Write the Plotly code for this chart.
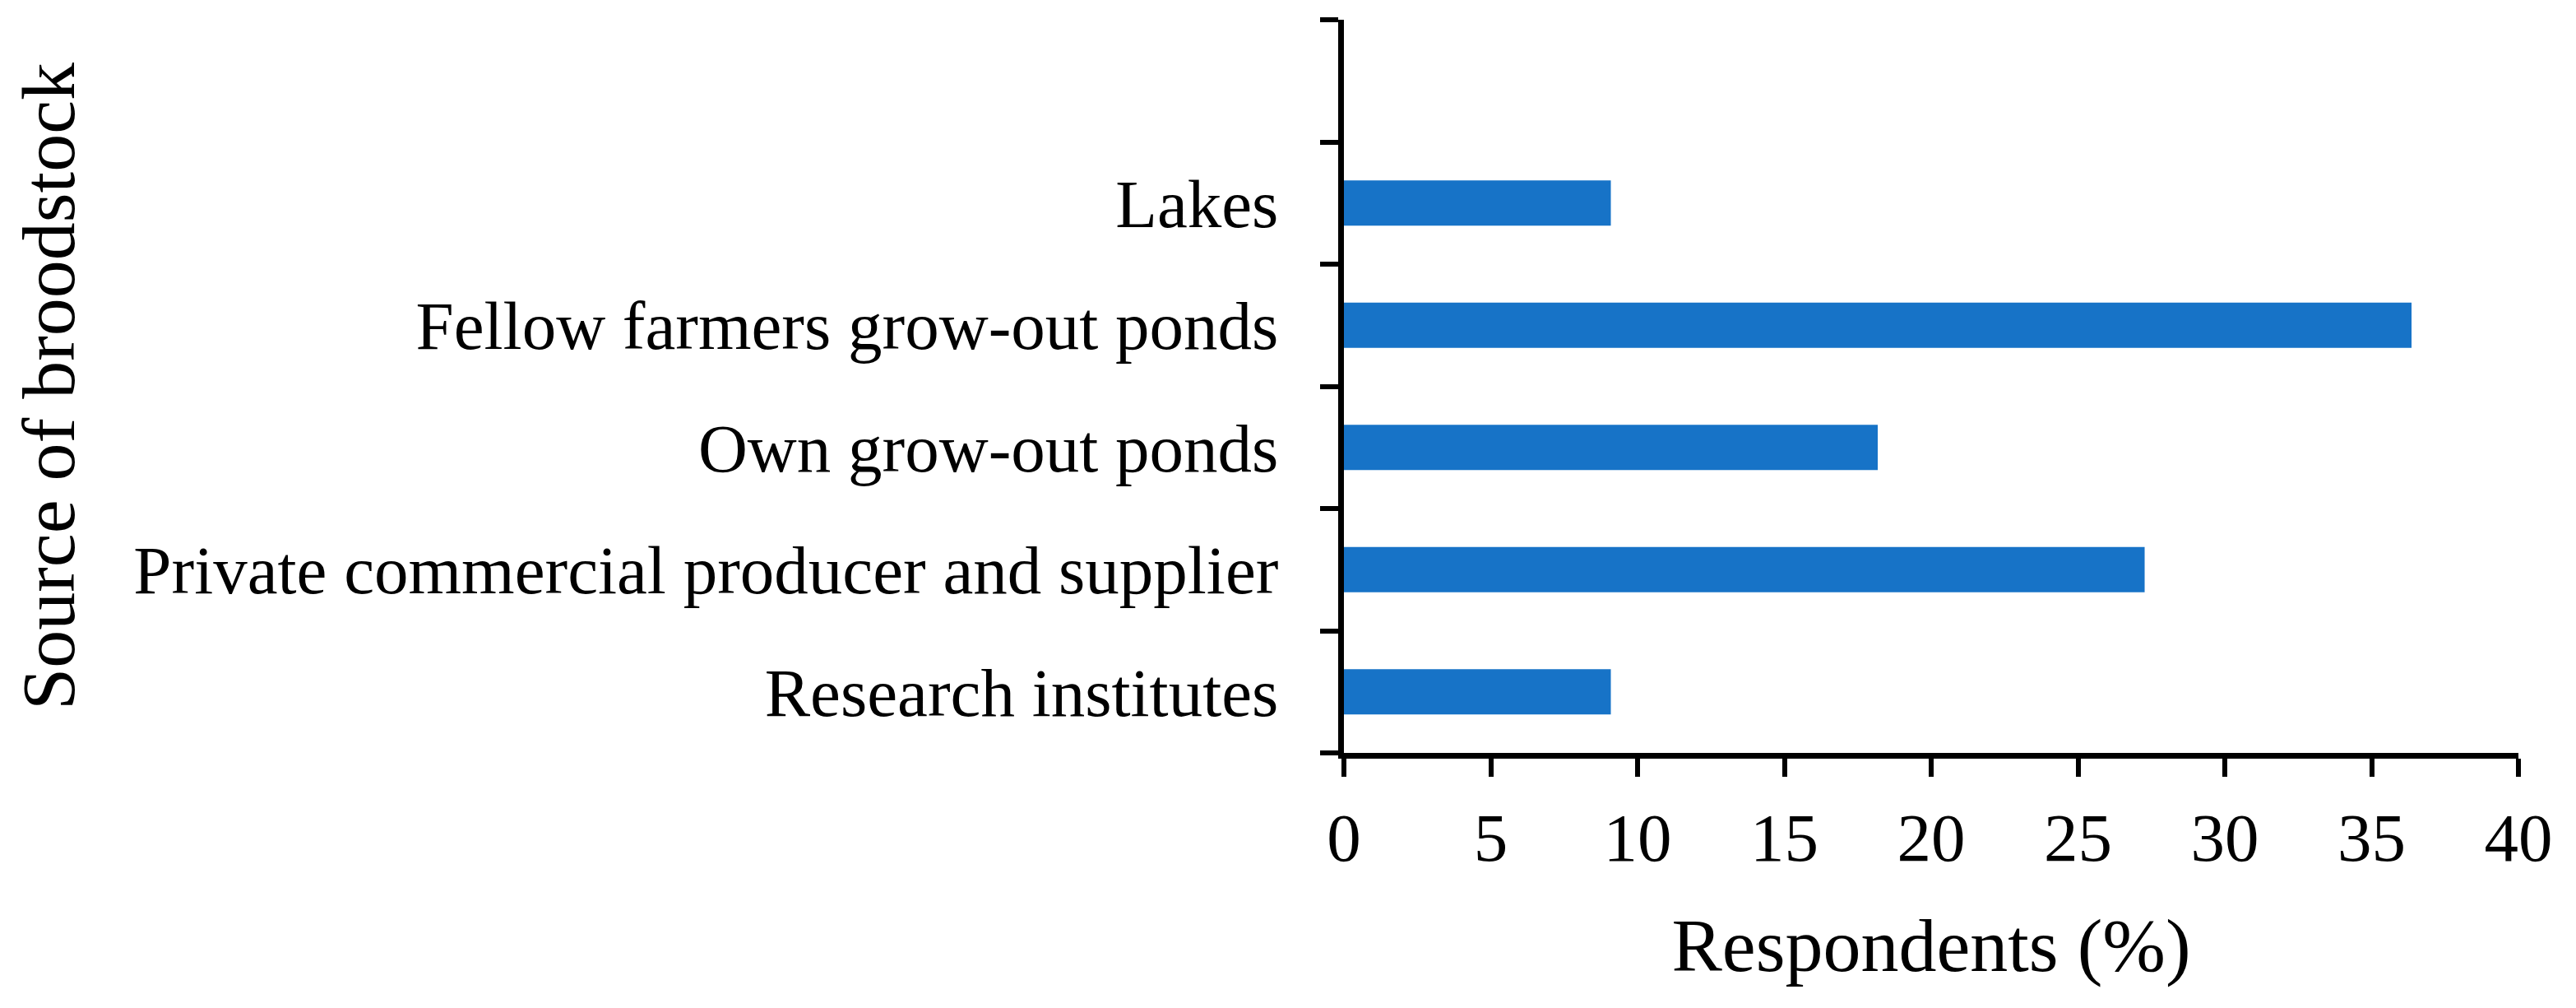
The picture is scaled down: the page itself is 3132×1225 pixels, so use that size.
import plotly.graph_objects as go

# bottom to top, as drawn on the y axis
sources = [
    "Research institutes",
    "Private commercial producer and supplier",
    "Own grow-out ponds",
    "Fellow farmers grow-out ponds",
    "Lakes",
]
respondents_pct = [9.09, 27.27, 18.18, 36.36, 9.09]
# an unused slot sits above "Lakes" in the original figure
axis_categories = sources + [" "]
x_ticks = [0, 5, 10, 15, 20, 25, 30, 35, 40]

FONT = "Palatino Linotype, Book Antiqua, Palatino, Liberation Serif, serif"

fig = go.Figure(
    go.Bar(
        x=respondents_pct,
        y=sources,
        orientation="h",
        marker=dict(color="#1773c7", line=dict(width=0)),
        width=0.37,
    )
)

fig.update_layout(
    width=3132,
    height=1225,
    margin=dict(l=1626, r=78, t=16, b=318),
    paper_bgcolor="white",
    plot_bgcolor="white",
    showlegend=False,
    font=dict(family=FONT, color="black", size=83),
)

fig.update_xaxes(
    range=[0, 40],
    tickvals=x_ticks,
    ticks="outside",
    ticklen=22,
    tickwidth=6,
    tickcolor="black",
    showline=True,
    linewidth=7,
    linecolor="black",
    showgrid=False,
    zeroline=False,
    automargin=False,
    tickfont=dict(size=83),
    ticklabelstandoff=2,
    title=dict(text="Respondents (%)", font=dict(size=92), standoff=56),
)

fig.update_yaxes(
    type="category",
    categoryorder="array",
    categoryarray=axis_categories,
    range=[-0.5, 5.5],
    tickson="boundaries",
    ticks="outside",
    ticklen=22,
    tickwidth=6,
    tickcolor="black",
    showline=True,
    linewidth=7,
    linecolor="black",
    showgrid=False,
    zeroline=False,
    automargin=False,
    tickfont=dict(size=83),
    ticklabelstandoff=56,
    title=dict(text="Source of broodstock", font=dict(size=92), standoff=84),
)

fig.write_html("out.html")
